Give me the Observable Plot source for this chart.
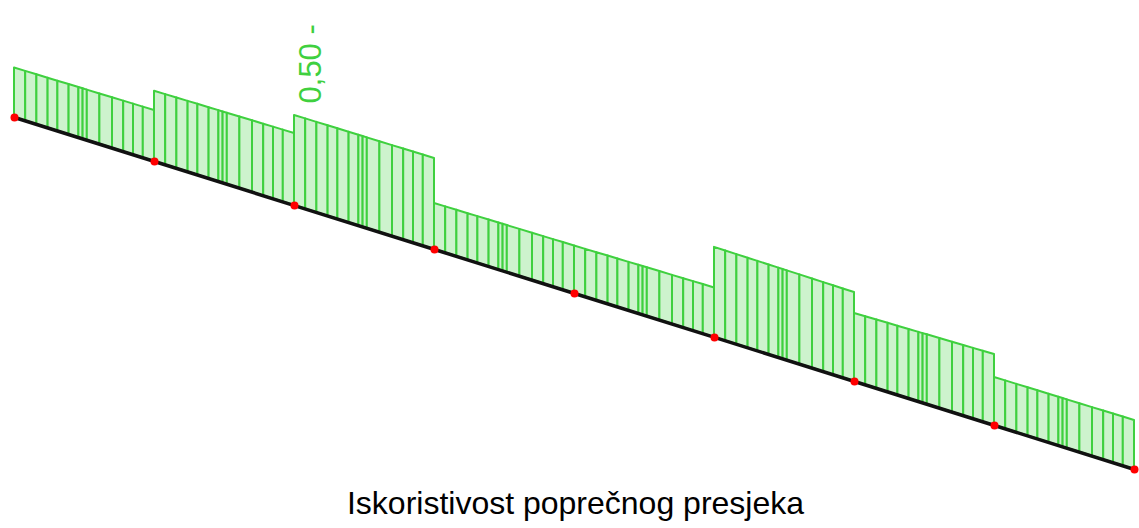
<!DOCTYPE html>
<html>
<head>
<meta charset="utf-8">
<script src="https://cdn.jsdelivr.net/npm/d3@7"></script>
<script src="https://cdn.jsdelivr.net/npm/@observablehq/plot@0.6"></script>
<style>
  html, body { margin: 0; padding: 0; background: #fff; overflow: hidden; }
  #chart svg { display: block; }
  #caption {
    width: 1139px; box-sizing: border-box; padding-left: 12px; text-align: center;
    font-family: "Liberation Sans", Arial, sans-serif;
    font-size: 32px; line-height: 53px; color: #000; margin-top: 2px;
  }
</style>
</head>
<body>
<div id="chart"></div>
<div id="caption">Iskoristivost poprečnog presjeka</div>
<script>
// Beam nodes (station along the member, elevation of the drawn axis)
const nodeX = [0, 1, 2, 3, 4, 5, 6, 7, 8];
const nodeElev = [0, -0.314, -0.629, -0.943, -1.257, -1.571, -1.886, -2.200, -2.514];

// Utilization at the start and end of each element
const uStart = [0.272, 0.386, 0.495, 0.253, 0.261, 0.495, 0.374, 0.264];
const uEnd   = [0.280, 0.396, 0.500, 0.261, 0.272, 0.489, 0.390, 0.269];

// Check sections within each element (fraction of element length)
const stationFrac = [0, 0.08, 0.16, 0.24, 0.31, 0.39, 0.46, 0.49, 0.52, 0.61, 0.70, 0.78, 0.85, 0.92, 1];

const labelText = "0,50 -";

const W = 1139, H = 475;
const k = 1.3;        // diagram scale (elevation units per unit utilization)
const pxPerUnit = 140;

const rows = [];
for (let s = 0; s < uStart.length; s++) {
  for (let j = 0; j < stationFrac.length - 1; j++) {
    for (const f of [stationFrac[j], stationFrac[j + 1]]) {
      const x = nodeX[s] + f * (nodeX[s + 1] - nodeX[s]);
      const yb = nodeElev[s] + f * (nodeElev[s + 1] - nodeElev[s]);
      const u = uStart[s] + f * (uEnd[s] - uStart[s]);
      rows.push({id: s * 100 + j, x, yb, yt: yb + k * u});
    }
  }
}
const nodes = nodeX.map((x, i) => ({x, y: nodeElev[i]}));
const maxSeg = 2;
const labelRow = [{x: nodeX[maxSeg], y: nodeElev[maxSeg] + k * uStart[maxSeg], t: labelText}];

const topPx = 117;
const plot = Plot.plot({
  width: W, height: H,
  marginLeft: 14, marginRight: 5, marginTop: 0, marginBottom: 0,
  x: {domain: [0, 8], axis: null},
  y: {domain: [-(H - topPx) / pxPerUnit, topPx / pxPerUnit], axis: null},
  style: {background: "#fff"},
  marks: [
    Plot.areaY(rows, {x: "x", y1: "yb", y2: "yt", z: "id", fill: "#cdf3cd", stroke: "#3fd03f", strokeWidth: 2, strokeLinejoin: "round"}),
    Plot.line(nodes, {x: "x", y: "y", stroke: "#111", strokeWidth: 3.5}),
    Plot.dot(nodes, {x: "x", y: "y", r: 4, fill: "#f00", stroke: "none"}),
    Plot.text(labelRow, {x: "x", y: "y", text: "t", rotate: -90, textAnchor: "start", dx: 17, dy: -12,
      fill: "#3fd03f", fontSize: 31, fontFamily: "Liberation Sans, Arial, sans-serif"})
  ]
});
document.getElementById("chart").append(plot);
</script>
</body>
</html>
